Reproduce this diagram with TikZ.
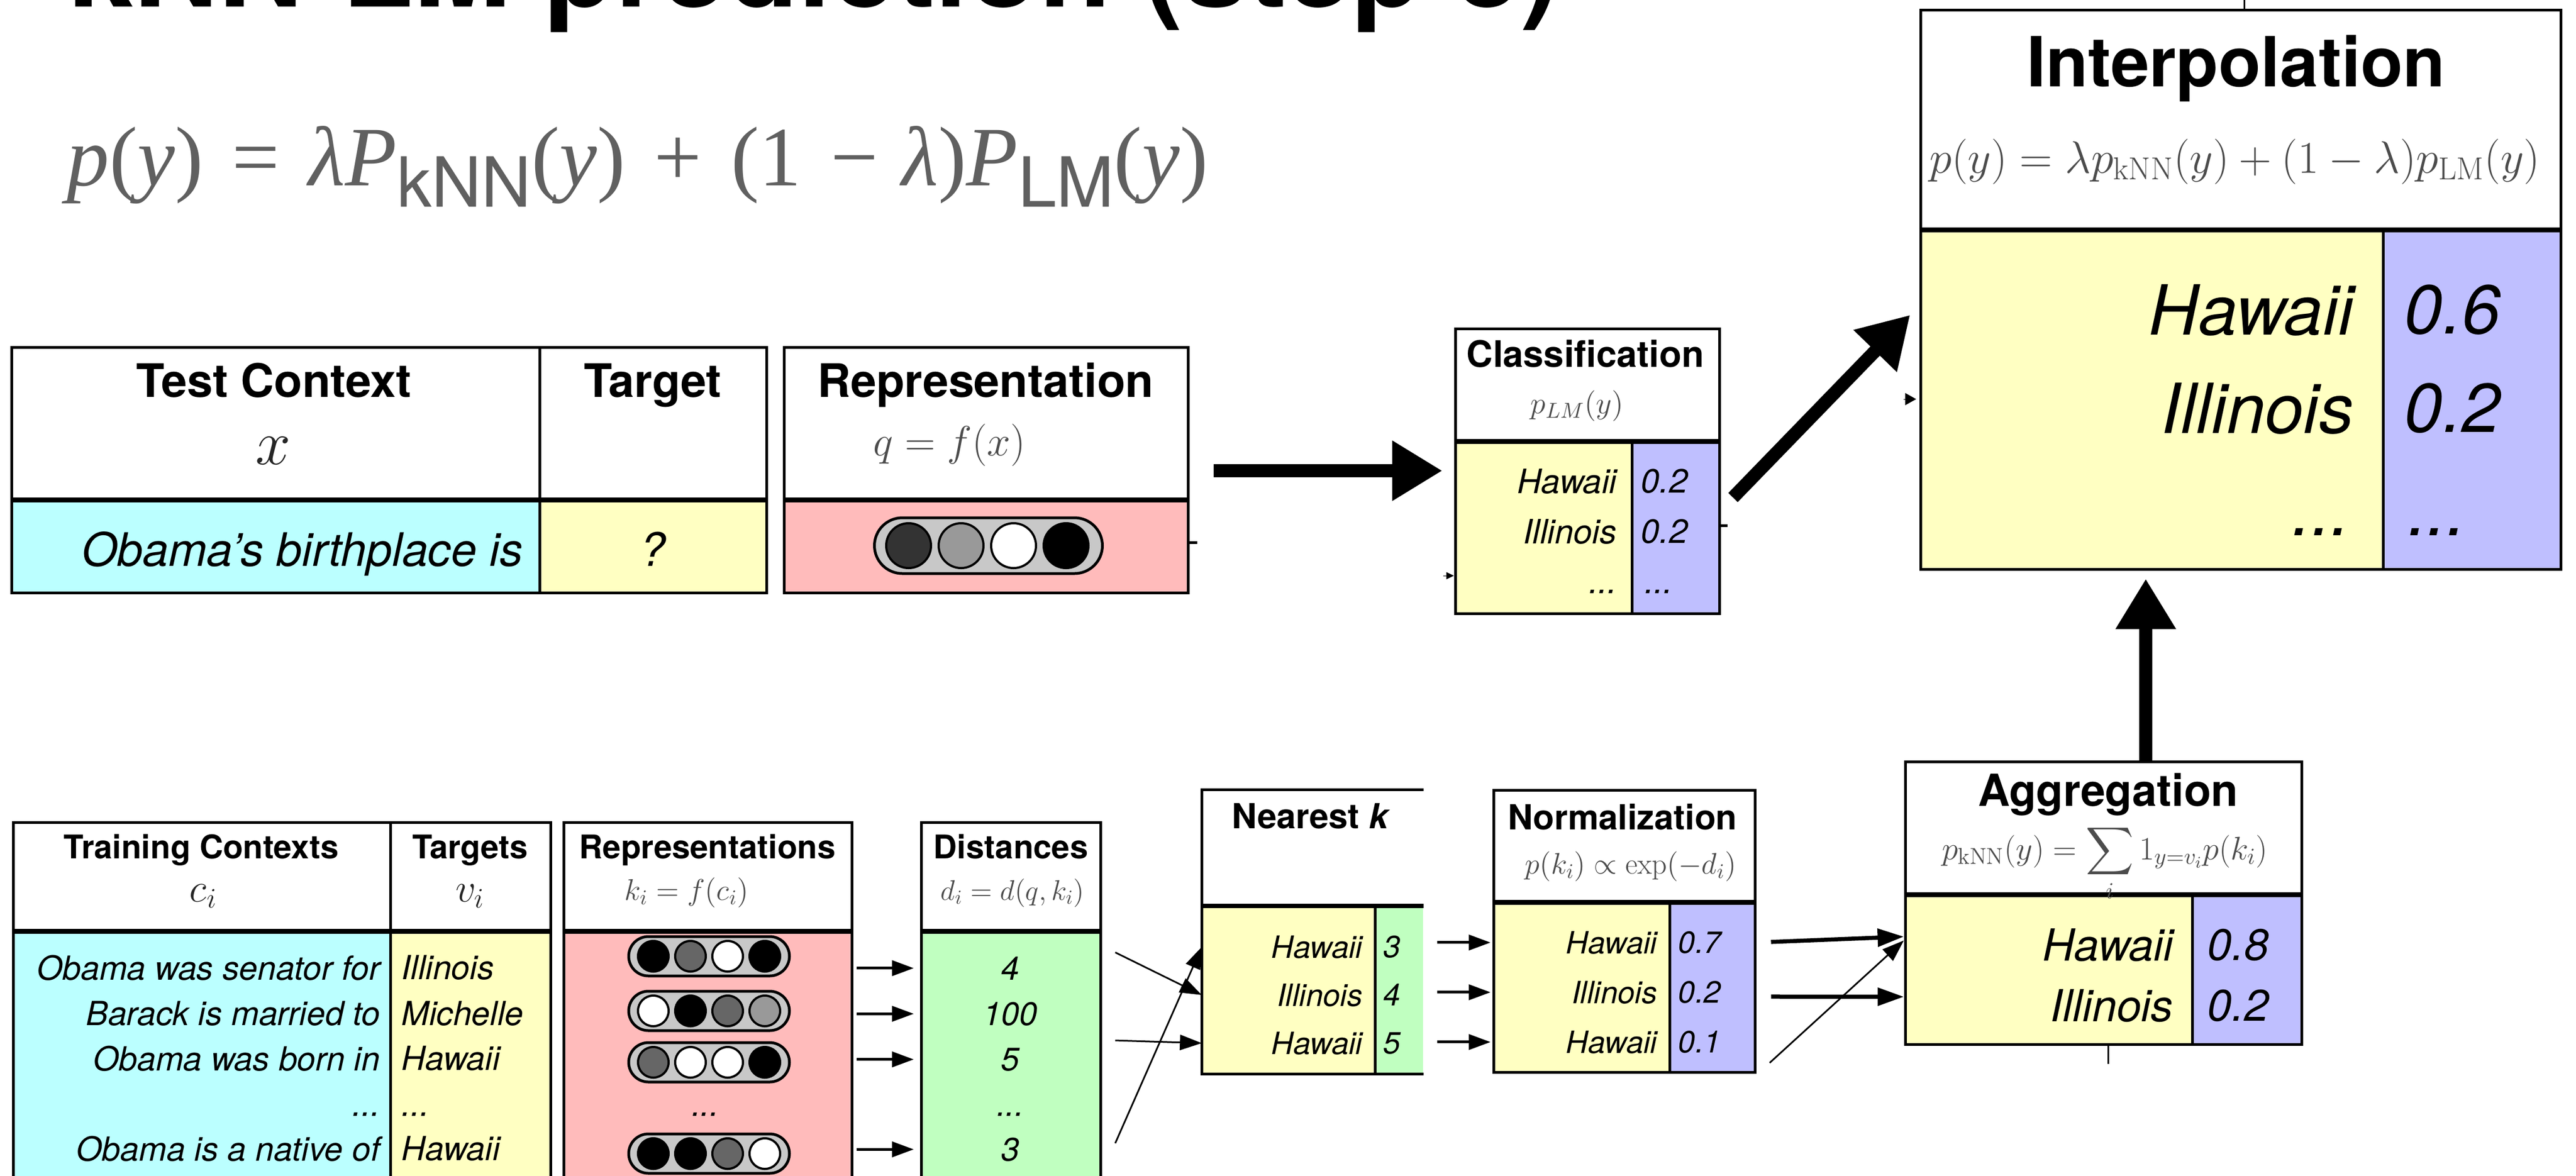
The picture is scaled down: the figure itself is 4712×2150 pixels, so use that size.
\RequirePackage{fix-cm}
\documentclass[tikz,border=0pt]{standalone}
\usepackage{amsmath}
\usepackage{fontspec}
\setsansfont{TeX Gyre Heros}
\newfontfamily\timesface{Liberation Serif}
\usetikzlibrary{fit,positioning,calc,arrows.meta}

\definecolor{ctxcyan}{HTML}{BBFFFF}
\definecolor{tgtyellow}{HTML}{FFFFC2}
\definecolor{reppink}{HTML}{FFBBBB}
\definecolor{distgreen}{HTML}{C0FFC0}
\definecolor{probblue}{HTML}{BFBFFF}
\definecolor{pillgrey}{HTML}{C8C8C8}
\definecolor{formgrey}{HTML}{606060}

\begin{document}
\begin{tikzpicture}[x=0.1mm, y=-0.1mm]
 	\tikzstyle{cell}=[rectangle, draw=black, line width=0.5mm, inner sep=0mm]
 	\tikzstyle{plaincell}=[rectangle, inner sep=0mm]
 	\tikzstyle{rule}=[line width=0.5mm]
 	\tikzstyle{splitline}=[line width=0.8mm]
 	\tikzstyle{pill}=[rectangle, draw=black, line width=0.5mm, fill=pillgrey, inner sep=0mm]
 	\tikzstyle{bead}=[circle, draw=black, line width=0.4mm, inner sep=0mm]
 	\tikzstyle{bigarrow}=[-{Triangle[length=9.2mm,width=10.4mm]}, line width=2.4mm]
 	\tikzstyle{connect}=[-{Triangle[length=4mm,width=2.8mm]}, line width=0.5mm]
 	\tikzstyle{midconnect}=[-{Triangle[length=4.8mm,width=3.2mm]}, line width=0.75mm]
 	\tikzstyle{faint}=[-{Triangle[length=4mm,width=2.8mm]}, line width=0.3mm]
 	\tikzset{headtext/.style={inner sep=0mm, anchor=base, font=\sffamily\bfseries\fontsize{#1}{#1}\selectfont},
 		wordtext/.style={inner sep=0mm, anchor=base east, font=\sffamily\itshape\fontsize{#1}{#1}\selectfont},
 		probtext/.style={inner sep=0mm, anchor=base west, font=\sffamily\itshape\fontsize{#1}{#1}\selectfont},
 		mathtext/.style={inner sep=0mm, anchor=base, text=black!70, font=\fontsize{#1}{#1}\selectfont}}
 	\fill[white] (0,0) rectangle (4712,2150);
 	\useasboundingbox (0,0) rectangle (4712,2150);

 	% title and formula
 	\node[inner sep=0mm, anchor=base west, font=\sffamily\bfseries\fontsize{61}{61}\selectfont] (title) at (125,12) {kNN-LM prediction (step 3)};
 	\node[inner sep=0mm, anchor=base west, text=formgrey, font=\timesface\fontsize{44}{44}\selectfont] (lmform) at (122,339) {\textit{p}(\textit{y})\hspace{5.3mm}=\hspace{5.3mm}\textit{λP}\raisebox{-3.9mm}{\sffamily\fontsize{36}{36}\selectfont kNN}(\textit{y})\hspace{5.3mm}+\hspace{5.3mm}(1\hspace{5.3mm}−\hspace{4.3mm}\textit{λ})\textit{P}\raisebox{-3.9mm}{\sffamily\fontsize{36}{36}\selectfont LM}(\textit{y})};

 	% test context
 	\node[cell, fill=white, fit={(21,635) (987,912)}] (tch) {};
 	\node[cell, fill=white, fit={(987,635) (1402,912)}] (tgh) {};
 	\node[cell, fill=ctxcyan, fit={(21,912) (987,1084)}] (tcb) {};
 	\node[cell, fill=tgtyellow, fit={(987,912) (1402,1084)}] (tgb) {};
 	\node[cell, fill=white, fit={(1434,635) (2173,912)}] (rph) {};
 	\node[cell, fill=reppink, fit={(1434,912) (2173,1084)}] (rpb) {};
 	\draw[splitline] (tch.south west) -- (tgh.south east);
 	\draw[splitline] (rph.south west) -- (rph.south east);
 	\node[headtext=24] (tct) at (501,726) {Test Context};
 	\node[headtext=24] (tgt) at (1194,726) {Target};
 	\node[headtext=24] (rpt) at (1803,726) {Representation};
 	\node[mathtext=33, text=black!85] (xsym) at (500,849) {$x$};
 	\node[mathtext=22] (qf) at (1737,833) {$q=f(x)$};
 	\node[wordtext=24] (ctxw) at (957,1035) {Obama’s birthplace is};
 	\node[wordtext=24, anchor=base] (tgq) at (1194,1035) {?};
 	\node[pill, minimum width=41.7mm, minimum height=10.2mm, rounded corners=5.1mm] (qpill) at (1808,998) {};
 	\node[bead, minimum size=8.2mm, fill=black!80] (q1) at (1662,998) {};
 	\node[bead, minimum size=8.2mm, fill=black!40] (q2) at (1758,998) {};
 	\node[bead, minimum size=8.2mm, fill=white] (q3) at (1854,998) {};
 	\node[bead, minimum size=8.2mm, fill=black] (q4) at (1950,998) {};

 	% classification
 	\node[cell, fill=white, fit={(2662,601) (3145,805)}] (clh) {};
 	\node[cell, fill=tgtyellow, fit={(2662,805) (2985,1122)}] (clw) {};
 	\node[cell, fill=probblue, fit={(2985,805) (3145,1122)}] (clp) {};
 	\draw[splitline] (clh.south west) -- (clh.south east);
 	\node[headtext=19] (clt) at (2900,671) {Classification};
 	\node[mathtext=16] (clf) at (2885,756) {$p_{LM}(y)$};
 	\node[wordtext=17.5] (cw1) at (2958,902) {Hawaii};
 	\node[wordtext=17.5] (cw2) at (2958,994) {Illinois};
 	\node[wordtext=17.5] (cw3) at (2958,1085) {...};
 	\node[probtext=17.5, right=4.3mm of cw1] (cp1) {0.2};
 	\node[probtext=17.5, right=4.3mm of cw2] (cp2) {0.2};
 	\node[probtext=17.5, right=5mm of cw3] (cp3) {...};

 	% interpolation
 	\node[cell, fill=white, fit={(3513,18) (4684,418)}] (iph) {};
 	\node[cell, fill=tgtyellow, fit={(3513,418) (4359,1041)}] (ipw) {};
 	\node[cell, fill=probblue, fit={(4359,418) (4684,1041)}] (ipp) {};
 	\draw[splitline] (iph.south west) -- (iph.south east);
 	\node[headtext=36] (ipt) at (4090,158) {Interpolation};
 	\node[mathtext=23.6] (ipf) at (4088,316) {$p(y)=\lambda p_{\mathrm{kNN}}(y)+(1-\lambda)p_{\mathrm{LM}}(y)$};
 	\node[wordtext=36] (iw1) at (4306,612) {Hawaii};
 	\node[wordtext=36] (iw2) at (4306,792) {Illinois};
 	\node[wordtext=36] (iw3) at (4299,979) {...};
 	\node[probtext=36, right=9.1mm of iw1] (ip1) {0.6};
 	\node[probtext=36, right=9.1mm of iw2] (ip2) {0.2};
 	\node[probtext=36, right=10.5mm of iw3] (ip3) {...};

 	% training contexts
 	\node[cell, fill=white, fit={(24,1504) (714,1701)}] (trh) {};
 	\node[cell, fill=white, fit={(714,1504) (1007,1701)}] (tah) {};
 	\node[cell, fill=ctxcyan, fit={(24,1701) (714,2220)}] (trb) {};
 	\node[cell, fill=tgtyellow, fit={(714,1701) (1007,2220)}] (tab) {};
 	\draw[splitline] (trh.south west) -- (tah.south east);
 	\node[headtext=17] (trt) at (368,1570) {Training Contexts};
 	\node[headtext=17] (tat) at (860,1570) {Targets};
 	\node[mathtext=21, text=black!85] (ci) at (372,1649) {$c_i$};
 	\node[mathtext=21, text=black!85] (vi) at (860,1649) {$v_i$};
 	\node[wordtext=17.3] (tr1) at (696,1792) {Obama was senator for};
 	\node[wordtext=17.3] (tr2) at (696,1875) {Barack is married to};
 	\node[wordtext=17.3] (tr3) at (696,1958) {Obama was born in};
 	\node[wordtext=17.3] (tr4) at (696,2041) {...};
 	\node[wordtext=17.3] (tr5) at (696,2123) {Obama is a native of};
 	\node[probtext=17.3, right=3.8mm of tr1] (tt1) {Illinois};
 	\node[probtext=17.3, right=3.8mm of tr2] (tt2) {Michelle};
 	\node[probtext=17.3, right=3.8mm of tr3] (tt3) {Hawaii};
 	\node[probtext=17.3, right=3.8mm of tr4] (tt4) {...};
 	\node[probtext=17.3, right=3.8mm of tr5] (tt5) {Hawaii};

 	% representations
 	\node[cell, fill=white, fit={(1031,1504) (1558,1701)}] (kh) {};
 	\node[cell, fill=reppink, fit={(1031,1701) (1558,2220)}] (kb) {};
 	\draw[splitline] (kh.south west) -- (kh.south east);
 	\node[headtext=17] (kt) at (1294,1570) {Representations};
 	\node[mathtext=15.6] (kf) at (1256,1646) {$k_i=f(c_i)$};
 	\node[pill, minimum width=29.4mm, minimum height=7.2mm, rounded corners=3.6mm] (k1) at (1297,1749) {};
 	\node[bead, minimum size=5.6mm, fill=black] (k1a) at (1195,1749) {};
 	\node[bead, minimum size=5.6mm, fill=black!60] (k1b) at (1263,1749) {};
 	\node[bead, minimum size=5.6mm, fill=white] (k1c) at (1331,1749) {};
 	\node[bead, minimum size=5.6mm, fill=black] (k1d) at (1399,1749) {};
 	\node[pill, minimum width=29.4mm, minimum height=7.2mm, rounded corners=3.6mm] (k2) at (1297,1849) {};
 	\node[bead, minimum size=5.6mm, fill=white] (k2a) at (1195,1849) {};
 	\node[bead, minimum size=5.6mm, fill=black] (k2b) at (1263,1849) {};
 	\node[bead, minimum size=5.6mm, fill=black!60] (k2c) at (1331,1849) {};
 	\node[bead, minimum size=5.6mm, fill=black!40] (k2d) at (1399,1849) {};
 	\node[pill, minimum width=29.4mm, minimum height=7.2mm, rounded corners=3.6mm] (k3) at (1297,1943) {};
 	\node[bead, minimum size=5.6mm, fill=black!60] (k3a) at (1195,1943) {};
 	\node[bead, minimum size=5.6mm, fill=white] (k3b) at (1263,1943) {};
 	\node[bead, minimum size=5.6mm, fill=white] (k3c) at (1331,1943) {};
 	\node[bead, minimum size=5.6mm, fill=black] (k3d) at (1399,1943) {};
 	\node[wordtext=17, anchor=base] (kdots) at (1290,2041) {...};
 	\node[pill, minimum width=29.4mm, minimum height=7.2mm, rounded corners=3.6mm] (k5) at (1297,2110) {};
 	\node[bead, minimum size=5.6mm, fill=black] (k5a) at (1195,2110) {};
 	\node[bead, minimum size=5.6mm, fill=black] (k5b) at (1263,2110) {};
 	\node[bead, minimum size=5.6mm, fill=black!60] (k5c) at (1331,2110) {};
 	\node[bead, minimum size=5.6mm, fill=white] (k5d) at (1399,2110) {};

 	% distances
 	\node[cell, fill=white, fit={(1685,1504) (2013,1701)}] (dh) {};
 	\node[cell, fill=distgreen, fit={(1685,1701) (2013,2220)}] (db) {};
 	\draw[splitline] (dh.south west) -- (dh.south east);
 	\node[headtext=17] (dt) at (1849,1570) {Distances};
 	\node[mathtext=14.8] (df) at (1852,1646) {$d_i=d(q,k_i)$};
 	\node[wordtext=17, anchor=base] (dv1) at (1848,1792) {4};
 	\node[wordtext=17, anchor=base] (dv2) at (1848,1875) {100};
 	\node[wordtext=17, anchor=base] (dv3) at (1848,1958) {5};
 	\node[wordtext=17, anchor=base] (dv4) at (1848,2041) {...};
 	\node[wordtext=17, anchor=base] (dv5) at (1848,2123) {3};

 	% nearest k
 	\node[plaincell, fill=white, fit={(2199,1445) (2603,1656)}] (nkh) {};
 	\node[plaincell, fill=tgtyellow, fit={(2199,1656) (2515,1964)}] (nkw) {};
 	\node[plaincell, fill=distgreen, fit={(2515,1656) (2603,1964)}] (nkd) {};
 	\draw[rule] (nkh.north east) -- (nkh.north west) -- (nkw.south west) -- (nkd.south east);
 	\draw[rule] (nkw.north east) -- (nkw.south east);
 	\draw[splitline] (nkh.south west) -- (nkh.south east);
 	\node[headtext=18] (nkt) at (2398,1515) {Nearest \textit{k}};
 	\node[wordtext=16] (nw1) at (2493,1752) {Hawaii};
 	\node[wordtext=16] (nw2) at (2493,1840) {Illinois};
 	\node[wordtext=16] (nw3) at (2493,1928) {Hawaii};
 	\node[probtext=16, right=3.7mm of nw1] (nd1) {3};
 	\node[probtext=16, right=3.7mm of nw2] (nd2) {4};
 	\node[probtext=16, right=3.7mm of nw3] (nd3) {5};

 	% normalization
 	\node[cell, fill=white, fit={(2732,1445) (3210,1648)}] (nmh) {};
 	\node[cell, fill=tgtyellow, fit={(2732,1648) (3054,1961)}] (nmw) {};
 	\node[cell, fill=probblue, fit={(3054,1648) (3210,1961)}] (nmp) {};
 	\draw[splitline] (nmh.south west) -- (nmh.south east);
 	\node[headtext=18] (nmt) at (2968,1517) {Normalization};
 	\node[mathtext=15.5] (nmf) at (2983,1598) {$p(k_i)\propto\exp(-d_i)$};
 	\node[wordtext=16] (mw1) at (3032,1744) {Hawaii};
 	\node[wordtext=16] (mw2) at (3032,1835) {Illinois};
 	\node[wordtext=16] (mw3) at (3032,1926) {Hawaii};
 	\node[probtext=16, right=3.7mm of mw1] (mp1) {0.7};
 	\node[probtext=16, right=3.7mm of mw2] (mp2) {0.2};
 	\node[probtext=16, right=3.7mm of mw3] (mp3) {0.1};

 	% aggregation
 	\node[cell, fill=white, fit={(3485,1393) (4210,1634)}] (agh) {};
 	\node[cell, fill=tgtyellow, fit={(3485,1634) (4010,1910)}] (agw) {};
 	\node[cell, fill=probblue, fit={(4010,1634) (4210,1910)}] (agp) {};
 	\draw[splitline] (agh.south west) -- (agh.south east);
 	\node[headtext=23] (agt) at (3856,1474) {Aggregation};
 	\node[mathtext=17] (agf) at (3850,1572) {$p_{\mathrm{kNN}}(y)=\displaystyle\sum_i 1_{y=v_i}p(k_i)$};
 	\node[wordtext=23] (aw1) at (3976,1757) {Hawaii};
 	\node[wordtext=23] (aw2) at (3976,1868) {Illinois};
 	\node[probtext=23, right=6.1mm of aw1] (ap1) {0.8};
 	\node[probtext=23, right=6.1mm of aw2] (ap2) {0.2};

 	% arrows
 	\coordinate (repout) at (2220,861);
 	\coordinate (clsout) at (3170,910);
 	\coordinate (ipin) at (3494,576);
 	\coordinate (agtop) at (3925,1392);
 	\draw[bigarrow, shorten >=2.1mm] (repout) -- (repout -| clw.west);
 	\draw[bigarrow] (clsout) -- (ipin);
 	\draw[bigarrow, shorten >=1.5mm] (agtop) -- (agtop |- ipw.south);
 	\path (kb.east |- dv1) edge [connect, shorten <=0.6mm, shorten >=1.1mm] (db.west |- dv1)
 	(kb.east |- dv2) edge [connect, shorten <=0.6mm, shorten >=1.1mm] (db.west |- dv2)
 	(kb.east |- dv3) edge [connect, shorten <=0.6mm, shorten >=1.1mm] (db.west |- dv3)
 	(kb.east |- dv5) edge [connect, shorten <=0.6mm, shorten >=1.1mm] (db.west |- dv5);
 	\coordinate (x1) at (2040,1742);
 	\coordinate (x2) at (2040,1903);
 	\coordinate (x3) at (2040,2091);
 	\path (x1) edge [faint] (nkw.west |- nw2)
 	(x2) edge [faint] (nkw.west |- nw3)
 	(x3) edge [faint] (nkw.west |- nw1);
 	\path (nkd.east |- mw1) edge [connect, shorten <=2.5mm, shorten >=0.3mm] (nmw.west |- mw1)
 	(nkd.east |- mw2) edge [connect, shorten <=2.5mm, shorten >=0.3mm] (nmw.west |- mw2)
 	(nkd.east |- mw3) edge [connect, shorten <=2.5mm, shorten >=0.3mm] (nmw.west |- mw3);
 	\coordinate (x4) at (3237,1944);
 	\draw[midconnect, shorten <=2.7mm] (nmp.east |- mp1) -- ($(agw.west |- aw1)+(0,-15)$);
 	\draw[midconnect, shorten <=2.7mm] ($(nmp.east |- mp2)+(0,8)$) -- ($(agw.west |- aw2)+(0,-16)$);
 	\draw[faint] (x4) -- ($(agw.west |- aw1)+(0,-8)$);

 	% leftover marks
 	\coordinate (t1) at (2176,992);
 	\coordinate (t2) at (2640,1053);
 	\coordinate (t3) at (3482,730);
 	\coordinate (t4) at (3148,961);
 	\coordinate (t5) at (4105,0);
 	\coordinate (t6) at (3856,1946);
 	\draw[rule] (t1) -- ++(14,0);
 	\draw[-{Triangle[length=1.4mm,width=1.3mm]}, line width=0.1mm] (t2) -- (t2 -| clw.west);
 	\draw[-{Triangle[length=2mm,width=2.2mm]}, line width=0.1mm] (t3) -- ++(23,0);
 	\draw[rule] (t4) -- ++(12,0);
 	\draw[line width=0.3mm] (t5) -- (t5 |- iph.north);
 	\draw[line width=0.3mm] (t6) -- (t6 |- agw.south);
\end{tikzpicture}
\end{document}
